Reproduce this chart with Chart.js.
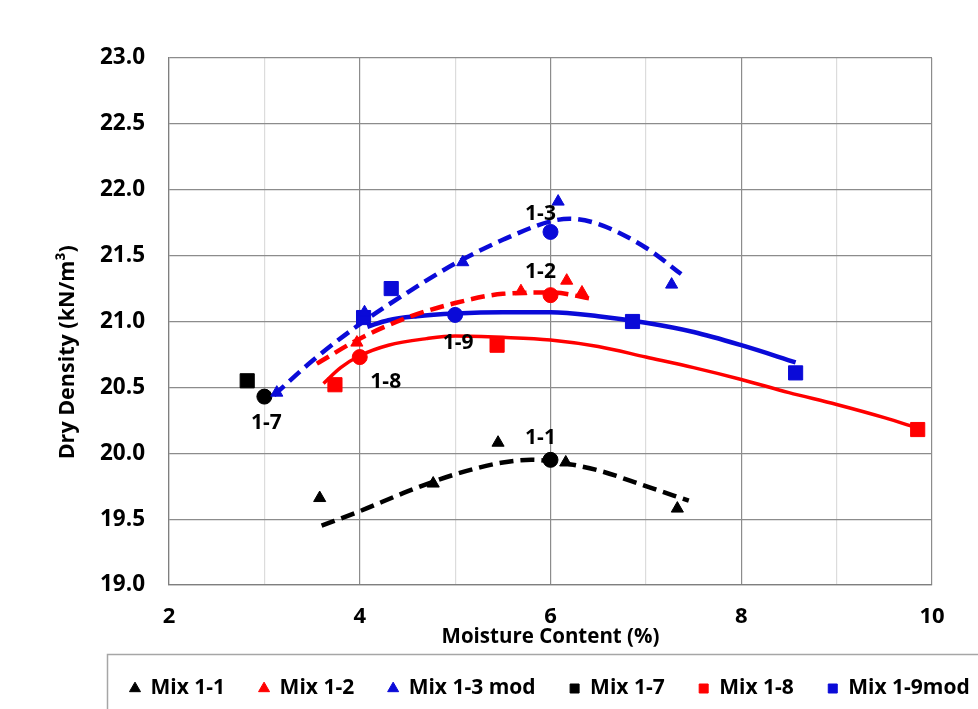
<!DOCTYPE html>
<html>
<head>
<meta charset="utf-8">
<script src="https://cdn.jsdelivr.net/npm/chart.js@4/dist/chart.umd.min.js"></script>
<style>
html,body{margin:0;padding:0;background:#fff;}
#wrap{width:978px;height:709px;position:relative;}
</style>
</head>
<body>
<div id="wrap"><canvas id="c" width="978" height="709"></canvas></div>
<script>
// ---- data ----
const xTickValues = [2, 4, 6, 8, 10];
const yTickValues = [19.0, 19.5, 20.0, 20.5, 21.0, 21.5, 22.0, 22.5, 23.0];

const seriesNames = ['Mix 1-1', 'Mix 1-2', 'Mix 1-3 mod', 'Mix 1-7', 'Mix 1-8', 'Mix 1-9mod'];

const mix11X = [3.58, 4.77, 5.45, 6.16, 7.33];
const mix11Y = [19.66, 19.77, 20.08, 19.93, 19.58];
const mix12X = [3.97, 5.69, 6.17, 6.33];
const mix12Y = [20.84, 21.23, 21.31, 21.22];
const mix13X = [3.13, 4.05, 5.08, 6.08, 7.27];
const mix13Y = [20.46, 21.07, 21.45, 21.91, 21.28];
const mix17X = [2.82];
const mix17Y = [20.55];
const mix18X = [3.74, 5.44, 9.85];
const mix18Y = [20.52, 20.82, 20.18];
const mix19X = [4.04, 4.33, 6.86, 8.57];
const mix19Y = [21.03, 21.25, 21.00, 20.61];

// optimum points (circles) and their labels
const optLabels = ['1-1', '1-2', '1-3', '1-7', '1-8', '1-9'];
const optX = [6.0, 6.0, 6.0, 3.0, 4.0, 5.0];
const optY = [19.95, 21.20, 21.68, 20.43, 20.73, 21.05];

// trend curves
const fit11X = [3.6, 4.0, 4.5, 5.0, 5.5, 5.8, 6.0, 6.5, 7.0, 7.45];
const fit11Y = [19.45, 19.56, 19.71, 19.84, 19.93, 19.95, 19.94, 19.87, 19.75, 19.64];
const fit12X = [3.55, 4.0, 4.5, 5.0, 5.5, 6.0, 6.45];
const fit12Y = [20.68, 20.87, 21.03, 21.14, 21.21, 21.22, 21.17];
const fit13X = [3.1, 3.5, 4.0, 4.5, 5.0, 5.5, 6.0, 6.2, 6.5, 7.0, 7.37];
const fit13Y = [20.44, 20.70, 20.98, 21.22, 21.44, 21.62, 21.76, 21.78, 21.74, 21.56, 21.36];
const fit18X = [3.62, 3.8, 4.0, 4.3, 4.7, 5.0, 5.5, 6.0, 6.5, 7.0, 7.5, 8.0, 8.5, 9.0, 9.5, 9.85];
const fit18Y = [20.53, 20.65, 20.74, 20.82, 20.87, 20.89, 20.88, 20.86, 20.81, 20.73, 20.65, 20.56, 20.46, 20.37, 20.27, 20.19];
const fit19X = [4.08, 4.3, 4.6, 5.0, 5.5, 6.0, 6.5, 7.0, 7.5, 8.0, 8.57];
const fit19Y = [20.96, 21.01, 21.04, 21.06, 21.07, 21.07, 21.04, 20.99, 20.92, 20.82, 20.69];

// ---- styling ----
const BLACK = '#000000', RED = '#ff0000', BLUE = '#0a0ad8';
const FONT = '"Open Sans"';
Chart.defaults.font.family = FONT;
Chart.defaults.color = '#000';

function pts(xs, ys) { return xs.map((x, i) => ({ x: x, y: ys[i] })); }

function markerSet(label, xs, ys, color, style, radius) {
  return {
    label: label, data: pts(xs, ys), showLine: false,
    pointStyle: style, pointRadius: radius, pointHoverRadius: radius,
    backgroundColor: color, borderColor: color, borderWidth: 1, order: 0
  };
}
function curveSet(label, xs, ys, color, width, dash) {
  return {
    label: label, data: pts(xs, ys), showLine: true, pointRadius: 0,
    borderColor: color, backgroundColor: color, borderWidth: width,
    borderDash: dash, cubicInterpolationMode: 'monotone', fill: false, order: 2
  };
}

const optColors = [BLACK, RED, BLUE, BLACK, RED, BLUE];

const datasets = [
  markerSet(seriesNames[0], mix11X, mix11Y, BLACK, 'triangle', 7),
  markerSet(seriesNames[1], mix12X, mix12Y, RED, 'triangle', 7),
  markerSet(seriesNames[2], mix13X, mix13Y, BLUE, 'triangle', 7),
  markerSet(seriesNames[3], mix17X, mix17Y, BLACK, 'rect', 10),
  markerSet(seriesNames[4], mix18X, mix18Y, RED, 'rect', 10),
  markerSet(seriesNames[5], mix19X, mix19Y, BLUE, 'rect', 10),
  curveSet('fit 1-1', fit11X, fit11Y, BLACK, 4.5, [14, 7]),
  curveSet('fit 1-2', fit12X, fit12Y, RED, 4.5, [14, 7]),
  curveSet('fit 1-3', fit13X, fit13Y, BLUE, 4.5, [14, 7]),
  curveSet('fit 1-8', fit18X, fit18Y, RED, 3.5, []),
  curveSet('fit 1-9', fit19X, fit19Y, BLUE, 4.5, []),
  {
    label: 'optimum', data: pts(optX, optY), showLine: false,
    pointStyle: 'circle', pointRadius: 7.5, pointHoverRadius: 7.5,
    backgroundColor: optColors, borderColor: optColors, borderWidth: 1, order: 1
  }
];

const labelOffsets = [[-10, -22], [-10, -23], [-10, -18], [2, 26], [26, 25], [3, 28]];

const customPlugin = {
  id: 'custom',
  beforeInit(chart) {
    const lg = chart.legend;
    if (lg) {
      const fit = lg.fit;
      lg.fit = function () { fit.call(this); this.height = 50; };
    }
  },
  afterLayout(chart) {
    const lg = chart.legend;
    if (lg) { lg.left = 96; lg.right = 1100; lg.top = 644; lg.bottom = 720; }
  },
  afterDatasetsDraw(chart) {
    const ctx = chart.ctx, xs = chart.scales.x, ys = chart.scales.y;
    ctx.save();
    ctx.font = 'bold 21px ' + FONT;
    ctx.fillStyle = '#000';
    ctx.textAlign = 'center';
    ctx.textBaseline = 'middle';
    optLabels.forEach((t, i) => {
      const px = xs.getPixelForValue(optX[i]) + labelOffsets[i][0];
      const py = ys.getPixelForValue(optY[i]) + labelOffsets[i][1];
      ctx.fillText(t, px, py);
    });
    ctx.restore();
  },
  afterDraw(chart) {
    const ctx = chart.ctx;
    ctx.save();
    ctx.strokeStyle = '#a6a6a6';
    ctx.lineWidth = 1.5;
    ctx.strokeRect(107.5, 654.5, 900, 80);
    ctx.restore();
  }
};

new Chart(document.getElementById('c'), {
  type: 'scatter',
  data: { datasets: datasets },
  options: {
    responsive: false,
    animation: false,
    layout: { padding: { top: 58, right: 46, left: 0, bottom: 0 } },
    plugins: {
      tooltip: { enabled: false },
      legend: {
        position: 'bottom',
        align: 'start',
        labels: {
          usePointStyle: true,
          boxWidth: 10,
          boxHeight: 9,
          padding: 34,
          color: '#000',
          font: { size: 21, weight: 'bold', family: FONT },
          filter: (item) => item.datasetIndex < 6
        }
      }
    },
    scales: {
      x: {
        type: 'linear', min: xTickValues[0], max: xTickValues[xTickValues.length - 1],
        afterFit(s) { s.height = 74; },
        afterBuildTicks(s) {
          const out = [];
          for (let v = xTickValues[0]; v <= xTickValues[xTickValues.length - 1]; v += 1) out.push({ value: v });
          s.ticks = out;
        },
        ticks: {
          padding: 19, color: '#000', maxRotation: 0, autoSkip: false,
          font: { size: 22, weight: 'bold' },
          callback: (v) => (xTickValues.includes(v) ? String(v) : '')
        },
        grid: {
          drawTicks: false,
          color: (c) => (c.tick && xTickValues.includes(c.tick.value) ? '#8c8c8c' : '#dcdcdc'),
          lineWidth: 1.2
        },
        border: { color: '#7f7f7f', width: 1.2 },
        title: {
          display: true, text: 'Moisture Content (%)', color: '#000',
          font: { size: 20.5, weight: 'bold' }, padding: { top: 0, bottom: 10 }
        }
      },
      y: {
        type: 'linear', min: yTickValues[0], max: yTickValues[yTickValues.length - 1],
        afterFit(s) { s.width = 169; },
        afterBuildTicks(s) { s.ticks = yTickValues.map(v => ({ value: v })); },
        ticks: {
          padding: 24, color: '#000', font: { size: 22.5, weight: 'bold' },
          callback: (v) => Number(v).toFixed(1)
        },
        grid: { drawTicks: false, color: '#8c8c8c', lineWidth: 1.2 },
        border: { color: '#7f7f7f', width: 1.2 },
        title: {
          display: true,
          text: 'Dry Density (kN/m³)' + '\u00a0'.repeat(11),
          color: '#000',
          font: { size: 21.5, weight: 'bold' }, padding: { top: 55, bottom: 0 }
        }
      }
    }
  },
  plugins: [customPlugin]
});
</script>
</body>
</html>
